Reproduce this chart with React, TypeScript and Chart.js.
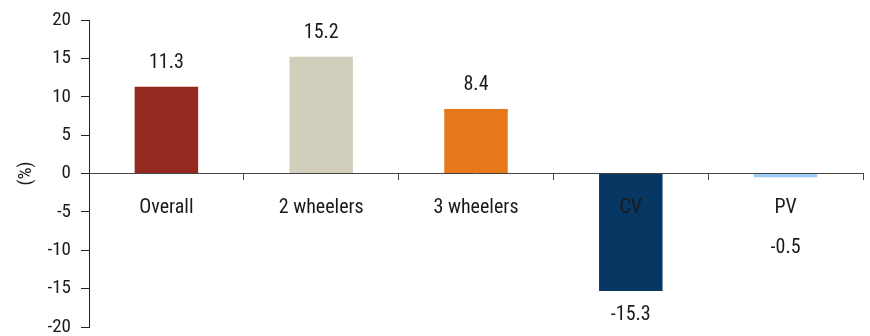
import React, { useEffect, useRef } from "react";
import { Chart, registerables } from "chart.js";

Chart.register(...registerables);

const categories = ["Overall", "2 wheelers", "3 wheelers", "CV", "PV"];
const growth = [11.3, 15.2, 8.4, -15.3, -0.5];
const barColors = ["#952920", "#D1CFBC", "#E67819", "#073763", "#9CCBF6"];
const yMin = -20;
const yMax = 20;
const yStep = 5;
const yTitle = "(%)";

const FONT = "'Roboto Condensed', 'DejaVu Sans Condensed', 'Roboto', sans-serif";
const TEXT = "#1a1a1a";

const valueLabels = {
  id: "valueLabels",
  afterDraw(chart: any) {
    const ctx = chart.ctx;
    const meta = chart.getDatasetMeta(0);
    const zeroY = chart.scales.y.getPixelForValue(0);
    ctx.save();
    ctx.font = `20px ${FONT}`;
    ctx.fillStyle = TEXT;
    ctx.textAlign = "center";
    ctx.textBaseline = "middle";
    meta.data.forEach((bar: any, i: number) => {
      const v = growth[i];
      let y = v >= 0 ? bar.y - 24 : bar.y + 24;
      if (v < 0 && Math.abs(y - (zeroY + 33)) < 22) y = zeroY + 74;
      ctx.fillText(v.toFixed(1), bar.x, y);
    });
    ctx.restore();
  },
};

export default function App() {
  const ref = useRef<HTMLCanvasElement>(null);
  useEffect(() => {
    if (!ref.current) return;
    const chart = new Chart(ref.current, {
      type: "bar",
      data: {
        labels: categories,
        datasets: [
          {
            data: growth,
            backgroundColor: barColors,
            borderWidth: 0,
            barPercentage: 0.41,
            categoryPercentage: 1,
          },
        ],
      },
      options: {
        animation: false,
        responsive: true,
        maintainAspectRatio: false,
        layout: { padding: { top: 20, right: 7, bottom: 9, left: 0 } },
        plugins: { legend: { display: false }, tooltip: { enabled: false } },
        scales: {
          x: {
            position: { y: 0 } as any,
            grid: {
              offset: true,
              drawOnChartArea: false,
              drawTicks: true,
              tickLength: 6,
              color: "#444",
            },
            border: { display: true, color: "#444", width: 1 },
            ticks: {
              z: 1,
              color: TEXT,
              font: { family: FONT, size: 20 },
              padding: 16,
              maxRotation: 0,
              autoSkip: false,
            },
          },
          y: {
            min: yMin,
            max: yMax,
            afterFit: (s: any) => {
              s.width = 89;
              s.paddingTop = 0;
              s.paddingBottom = 0;
            },
            grid: {
              drawOnChartArea: false,
              drawTicks: true,
              tickLength: 8,
              color: "#222",
            },
            border: { display: true, color: "#222", width: 1 },
            ticks: {
              stepSize: yStep,
              color: TEXT,
              font: { family: FONT, size: 19 },
              padding: 10,
            },
            title: {
              display: true,
              text: yTitle,
              color: TEXT,
              font: { family: FONT, size: 19 },
              padding: { top: 15, bottom: 0 },
            },
          },
        },
      },
      plugins: [valueLabels],
    });
    return () => chart.destroy();
  }, []);
  return (
    <div style={{ position: "fixed", left: 0, top: 0, width: 870, height: 336, background: "#fff" }}>
      <canvas ref={ref} />
    </div>
  );
}
